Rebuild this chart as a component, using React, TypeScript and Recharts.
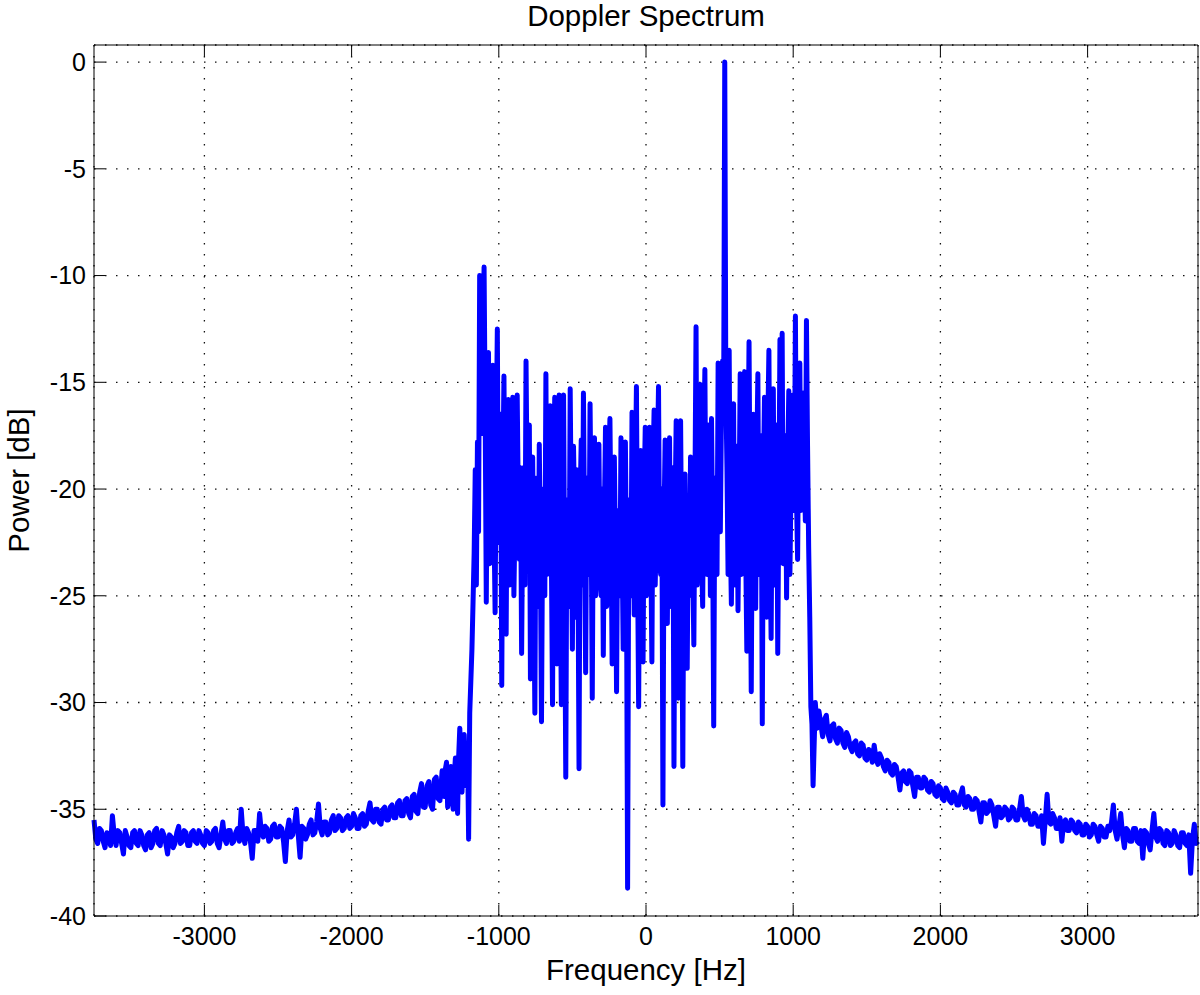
import { CartesianGrid, Line, LineChart, XAxis, YAxis } from "recharts"

// spectrum floor left of the occupied band, bins every 12.5 Hz from -3750 Hz
const leftFloorStart = -3750
const leftFloorStep = 12.5
const leftFloorDb = [
  -35.5, -36.4, -36.6, -35.9, -36.0, -36.5, -36.8, -36.1, -36.2, -36.7,
  -35.3, -36.2, -36.7, -36.0, -36.1, -36.6, -37.1, -36.0, -36.3, -36.7,
  -36.8, -36.1, -36.0, -36.6, -36.7, -36.0, -36.2, -36.7, -36.9, -36.2,
  -36.1, -36.8, -36.6, -36.0, -35.9, -36.6, -36.7, -36.0, -36.2, -36.6,
  -37.1, -36.2, -36.3, -36.8, -36.6, -36.1, -35.8, -36.6, -36.5, -36.0,
  -36.1, -36.7, -36.7, -36.1, -36.0, -36.5, -36.6, -36.0, -36.2, -36.6,
  -36.7, -36.0, -36.1, -36.6, -36.5, -36.0, -35.9, -36.6, -36.8, -36.2,
  -35.6, -36.4, -36.6, -36.0, -36.0, -36.6, -36.5, -36.1, -35.9, -36.5,
  -35.0, -36.2, -36.6, -35.9, -36.1, -36.5, -37.3, -36.0, -36.0, -36.5,
  -35.2, -36.1, -36.3, -35.8, -35.9, -36.5, -36.4, -35.8, -35.7, -36.3,
  -36.3, -35.8, -35.9, -36.5, -37.45, -36.0, -35.5, -36.3, -36.2, -35.7,
  -35.0, -36.2, -37.25, -35.8, -35.9, -36.4, -36.2, -35.7, -35.5, -36.2,
  -36.1, -35.6, -34.75, -35.9, -36.2, -35.6, -35.6, -36.2, -36.1, -35.5,
  -35.3, -36.0, -35.9, -35.3, -35.4, -36.0, -35.9, -35.4, -35.3, -35.9,
  -35.8, -35.2, -35.4, -35.9, -35.9, -35.3, -35.2, -35.8, -35.7, -35.1,
  -34.7, -35.5, -35.6, -35.0, -35.0, -35.6, -35.7, -35.0, -34.9, -35.5,
  -35.5, -34.9, -34.8, -35.4, -35.4, -34.7, -34.6, -35.3, -35.3, -34.6,
  -34.5, -35.2, -35.4, -34.4, -34.3, -35.1, -35.2, -34.2, -33.8, -34.9,
  -34.9, -33.9, -33.7, -34.8, -35.0, -33.6, -33.5, -34.5, -34.6,
]

// occupied Doppler band, bins every 7.5 Hz from -1385 Hz
const bandStart = -1385
const bandStep = 7.5
const bandDb = [
  -33.2, -34.0, -34.4, -33.1, -32.8, -34.9, -34.6, -33.4, -33.0, -34.1,
  -35.0, -33.5, -32.6, -33.8, -35.2, -32.5, -31.2, -33.0, -34.2, -32.4,
  -31.5, -32.8, -33.9, -32.0, -36.4, -30.5, -29.0, -27.5, -25.3, -23.0,
  -19.1, -24.5, -17.8, -22.0, -10.0, -17.2, -17.4, -13.0, -9.6, -16.5,
  -25.3, -17.0, -13.6, -23.5, -20.5, -16.0, -14.2, -21.8, -25.8, -17.5,
  -12.5, -22.5, -21.0, -16.5, -29.2, -19.5, -14.7, -22.0, -26.8, -18.0,
  -15.8, -24.5, -23.1, -18.5, -15.7, -25.0, -21.5, -17.5, -15.6, -20.5,
  -23.3, -19.0, -27.7, -21.0, -19.0, -24.5, -14.0, -20.0, -22.0, -17.0,
  -28.9, -21.5, -18.5, -24.0, -30.5, -19.5, -21.0, -25.5, -17.9, -23.0,
  -30.9, -22.0, -20.0, -25.0, -14.6, -24.0, -22.5, -19.5, -16.1, -23.5,
  -30.1, -19.0, -15.7, -22.5, -28.2, -20.0, -15.6, -24.0, -30.1, -18.5,
  -15.6, -24.5, -33.5, -21.0, -20.5, -25.5, -15.3, -21.5, -27.5, -18.0,
  -21.0, -26.0, -19.1, -23.0, -33.1, -20.5, -17.7, -24.5, -15.5, -22.0,
  -28.6, -19.5, -20.0, -24.0, -16.0, -21.5, -29.8, -20.0, -17.6, -25.0,
  -24.0, -19.5, -17.9, -23.5, -25.0, -20.0, -27.8, -21.0, -17.1, -25.5,
  -22.0, -18.5, -16.7, -22.0, -28.2, -20.5, -18.5, -23.0, -29.5, -21.5,
  -21.0, -25.0, -17.6, -22.5, -27.5, -21.0, -17.8, -24.0, -38.7, -22.5,
  -20.5, -25.0, -16.4, -21.5, -25.9, -19.5, -15.2, -23.5, -30.2, -21.0,
  -18.2, -23.0, -28.1, -20.0, -17.1, -25.0, -24.6, -19.5, -17.1, -22.5,
  -28.1, -19.0, -16.3, -24.5, -22.0, -18.5, -15.2, -23.5, -24.0, -20.0,
  -34.8, -21.5, -17.7, -24.5, -26.3, -20.0, -17.6, -25.5, -22.5, -19.0,
  -33.0, -21.0, -16.8, -24.0, -29.8, -19.5, -16.8, -23.5, -33.0, -22.0,
  -19.3, -24.0, -28.4, -21.5, -25.0, -18.5, -19.0, -23.5, -27.3, -20.0,
  -12.4, -24.5, -20.0, -17.5, -15.1, -23.0, -25.5, -18.0, -14.4, -22.5,
  -24.0, -17.0, -18.0, -25.0, -16.7, -22.0, -31.1, -19.5, -20.0, -24.0,
  -14.1, -21.5, -22.0, -16.5, -14.0, -16.0, 0.0, -15.5, -19.0, -24.0,
  -13.5, -22.0, -25.4, -19.5, -16.0, -24.5, -21.0, -18.0, -25.7, -20.5,
  -14.6, -24.0, -22.0, -17.5, -14.5, -23.0, -27.6, -19.0, -13.1, -21.5,
  -29.5, -20.0, -16.5, -23.5, -25.6, -18.5, -14.6, -24.0, -22.0, -17.5,
  -31.0, -19.5, -15.7, -23.0, -26.0, -17.0, -13.5, -22.5, -27.0, -19.0,
  -15.3, -24.5, -20.0, -17.0, -27.7, -20.5, -13.0, -19.0, -12.7, -23.5,
  -21.3, -17.5, -25.1, -19.0, -15.4, -24.0, -20.0, -17.0, -15.6, -21.0,
  -11.9, -20.5, -23.3, -16.5, -14.1, -21.0, -20.0, -15.5, -18.5, -21.5,
  -12.1, -18.0, -22.7, -26.0, -30.2, -31.0, -33.9,
]

// decaying floor right of the band, bins every 12.5 Hz from 1150 Hz
const rightFloorStart = 1150
const rightFloorStep = 12.5
const rightFloorDb = [
  -30.0, -31.2, -30.4, -31.0, -31.6, -30.8, -30.6, -31.5, -31.8, -31.1,
  -31.0, -31.7, -31.9, -31.2, -31.3, -31.9, -32.1, -31.4, -31.6, -32.1,
  -32.3, -31.9, -31.8, -32.4, -32.5, -31.9, -32.0, -32.6, -32.7, -32.2,
  -32.3, -32.8, -32.0, -32.6, -32.9, -32.4, -32.6, -33.0, -33.2, -32.7,
  -32.8, -33.3, -33.4, -32.9, -33.0, -33.5, -34.1, -33.3, -33.2, -33.7,
  -33.8, -33.2, -33.3, -33.9, -34.4, -33.5, -33.5, -34.0, -34.0, -33.5,
  -33.6, -34.1, -34.2, -33.7, -33.8, -34.3, -34.4, -33.9, -34.0, -34.5,
  -34.6, -34.0, -34.2, -34.6, -34.7, -34.2, -34.3, -34.8, -34.8, -34.3,
  -34.0, -34.8, -34.9, -34.4, -34.5, -35.0, -35.0, -34.5, -34.6, -35.1,
  -35.6, -34.7, -34.7, -35.2, -35.1, -34.6, -34.8, -35.3, -35.8, -34.9,
  -34.9, -35.4, -35.3, -34.9, -35.0, -35.5, -35.4, -34.9, -35.0, -35.5,
  -35.5, -35.0, -34.4, -35.3, -35.5, -35.0, -35.2, -35.7, -35.7, -35.2,
  -35.3, -35.8, -35.8, -35.3, -36.6, -35.5, -34.3, -35.6, -35.7, -35.2,
  -35.4, -35.9, -35.9, -35.4, -36.5, -35.6, -35.5, -36.0, -36.0, -35.5,
  -35.6, -36.0, -36.1, -35.6, -35.7, -36.2, -36.2, -35.7, -35.8, -36.3,
  -36.2, -35.7, -35.8, -36.2, -36.5, -35.8, -35.9, -36.3, -36.3, -35.8,
  -36.0, -35.6, -34.8, -36.0, -36.4, -35.8, -35.2, -36.2, -36.8, -35.9,
  -36.0, -36.5, -36.5, -35.9, -35.9, -36.5, -36.6, -36.0, -37.3, -36.0,
  -36.1, -36.6, -36.9, -36.0, -35.2, -36.3, -36.5, -35.9, -36.0, -36.6,
  -36.7, -36.0, -36.1, -36.7, -36.6, -36.0, -36.2, -36.7, -36.8, -36.1,
  -36.1, -36.6, -36.7, -36.2, -38.0, -36.4, -35.7, -36.6, -36.5,
]

const freqTicks = [-3000, -2000, -1000, 0, 1000, 2000, 3000]
const powerTicks = [-40, -35, -30, -25, -20, -15, -10, -5, 0]

const font = '"Liberation Sans", Arial, Helvetica, sans-serif'

function toPoints(start: number, step: number, values: number[]) {
  return values.map((db, i) => ({ freq: start + i * step, db }))
}

const spectrum = [
  ...toPoints(leftFloorStart, leftFloorStep, leftFloorDb),
  ...toPoints(bandStart, bandStep, bandDb),
  ...toPoints(rightFloorStart, rightFloorStep, rightFloorDb),
]

const noLabel = () => <g />

export default function App() {
  const tickStyle = { fill: "#000", fontSize: 25, fontFamily: font }
  const labelStyle = { fill: "#000", fontSize: 29.5, fontFamily: font }

  return (
    <div
      style={{
        position: "absolute",
        left: 0,
        top: 0,
        width: 1200,
        height: 995,
        background: "#fff",
      }}
    >
      <div
        style={{
          position: "absolute",
          left: 94,
          top: 1,
          width: 1104,
          textAlign: "center",
          fontFamily: font,
          fontSize: 29.5,
          lineHeight: 1,
          color: "#000",
        }}
      >
        Doppler Spectrum
      </div>
      <LineChart
        width={1200}
        height={995}
        data={spectrum}
        margin={{ top: 44, right: 1, bottom: 0, left: 0 }}
      >
        <CartesianGrid
          xAxisId="bottom"
          yAxisId="left"
          stroke="#111"
          strokeWidth={1.3}
          strokeDasharray="1.5 9.5"
        />
        <XAxis
          xAxisId="bottom"
          dataKey="freq"
          type="number"
          domain={[-3750, 3750]}
          ticks={freqTicks}
          height={79}
          tickSize={-11}
          tickMargin={22}
          stroke="#000"
          tick={tickStyle}
          label={{
            value: "Frequency [Hz]",
            position: "insideBottom",
            offset: 15,
            style: labelStyle,
          }}
        />
        <XAxis
          xAxisId="top"
          orientation="top"
          dataKey="freq"
          type="number"
          domain={[-3750, 3750]}
          ticks={freqTicks}
          height={1}
          tickSize={-11}
          stroke="#000"
          tick={noLabel}
        />
        <YAxis
          yAxisId="left"
          type="number"
          domain={[-40, 0.8]}
          ticks={powerTicks}
          width={94}
          tickSize={-11}
          tickMargin={19}
          stroke="#000"
          tick={tickStyle}
          label={{
            value: "Power [dB]",
            angle: -90,
            position: "center",
            dx: -28.5,
            style: labelStyle,
          }}
        />
        <YAxis
          yAxisId="right"
          orientation="right"
          type="number"
          domain={[-40, 0.8]}
          ticks={powerTicks}
          width={1}
          tickSize={-11}
          stroke="#000"
          tick={noLabel}
        />
        <Line
          xAxisId="bottom"
          yAxisId="left"
          type="linear"
          dataKey="db"
          stroke="#0000ff"
          strokeWidth={5}
          strokeLinejoin="round"
          dot={false}
          activeDot={false}
          isAnimationActive={false}
        />
      </LineChart>
    </div>
  )
}
